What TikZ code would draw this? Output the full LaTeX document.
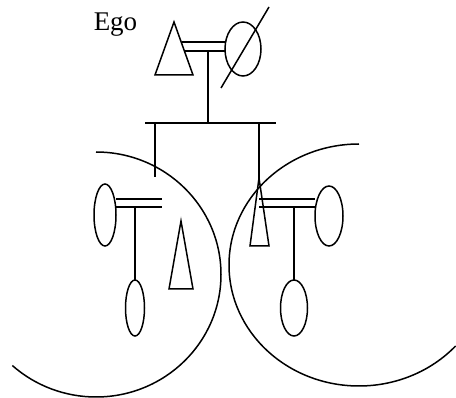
\documentclass[tikz,border=0pt]{standalone}
\usepackage{fontspec}
\setmainfont{Liberation Serif}
\usetikzlibrary{shapes.geometric}
\tikzset{
  person/.style={draw, ellipse, inner sep=0pt, outer sep=0pt},
  kin/.style={line width=1.5pt},
}
\begin{document}
\begin{tikzpicture}[x=1pt,y=-1pt,kin]
\useasboundingbox (0,0) rectangle (456,398);
% label
\node[anchor=base west, inner sep=0pt, font=\fontsize{27}{31}\selectfont] (ego) at (93,31) {Ego};
% ego generation
\draw (174,22) coordinate (egoA) -- (193,75) -- (155,75) -- cycle;
\node[person, minimum width=36pt, minimum height=54pt] (wife) at (243,49) {};
\coordinate (egoR1) at (182,42);
\coordinate (egoR2) at (185,51);
\draw (egoR1) -- (wife.west |- egoR1);
\draw (egoR2) -- (wife.west |- egoR2);
\draw (269,7) coordinate (s1) -- (221,88) coordinate (s2);
\coordinate (desc) at (208,51);
\coordinate (sib) at (208,123);
\draw (desc) -- (sib);
\coordinate (sibL) at (145,123);
\coordinate (sibR) at (276,123);
\draw (sibL) -- (sibR);
% left child couple
\coordinate (dropL) at (155,123);
\draw (dropL) -- (155,177) coordinate (dropLend);
\node[person, minimum width=22pt, minimum height=62pt] (lw) at (105,215) {};
\coordinate (lm1) at (162,199);
\coordinate (lm2) at (162,207);
\draw (lw.east |- lm1) -- (lm1);
\draw (lw.east |- lm2) -- (lm2);
\node[person, minimum width=19pt, minimum height=56pt] (lc) at (135,308) {};
\draw (135,207) coordinate (lcd) -- (lc.north);
\draw (181,221) coordinate (ltA) -- (193,289) -- (169,289) -- cycle;
% right child couple
\draw (259,123) coordinate (dropR) -- (259,178) coordinate (rtA);
\draw (rtA) -- (269,246) -- (250,246) -- cycle;
\node[person, minimum width=28pt, minimum height=60pt] (rw) at (329,216) {};
\coordinate (rm1) at (259,199);
\coordinate (rm2) at (259,207);
\draw (rm1) -- (rw.west |- rm1);
\draw (rm2) -- (rw.west |- rm2);
\node[person, minimum width=27pt, minimum height=56pt] (rc) at (294,308) {};
\draw (294,207) coordinate (rcd) -- (rc.north);
% kin circles
\draw (96,152) arc[start angle=-90, end angle=132, x radius=125, y radius=122.5];
\draw (359,144) arc[start angle=-90, end angle=-318, x radius=130, y radius=121];
\end{tikzpicture}
\end{document}
